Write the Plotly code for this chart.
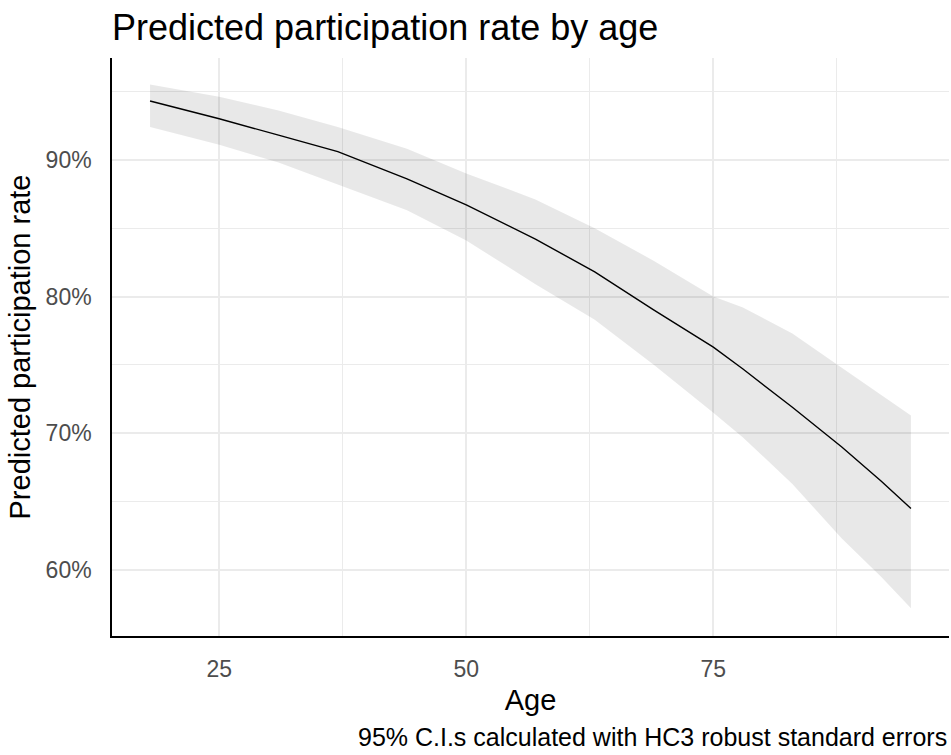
import plotly.graph_objects as go

# Predicted participation rate (%) by age with 95% confidence band
age = [18, 25, 31, 37, 44, 50, 57, 63, 69, 75, 78, 83, 88, 92, 95]
fit = [94.3, 93.0, 91.8, 90.6, 88.6, 86.7, 84.2, 81.8, 79.0, 76.3, 74.7, 71.9, 69.0, 66.5, 64.5]
upper = [95.5, 94.6, 93.6, 92.4, 90.8, 89.0, 87.1, 85.0, 82.6, 80.0, 79.2, 77.3, 74.8, 72.8, 71.3]
lower = [92.4, 91.1, 89.8, 88.2, 86.3, 84.1, 80.9, 78.3, 75.0, 71.5, 69.7, 66.3, 62.3, 59.5, 57.2]

x_ticks = [25, 50, 75]
y_ticks = [60, 70, 80, 90]
y_tick_text = ["60%", "70%", "80%", "90%"]

FONT = "Liberation Sans, Arial, sans-serif"
GRID = "#EBEBEB"

fig = go.Figure()

# confidence ribbon
fig.add_trace(go.Scatter(x=age, y=upper, mode="lines", line=dict(width=0),
                         hoverinfo="skip", showlegend=False))
fig.add_trace(go.Scatter(x=age, y=lower, mode="lines", line=dict(width=0),
                         fill="tonexty", fillcolor="rgba(0,0,0,0.09)",
                         hoverinfo="skip", showlegend=False))
# fitted curve
fig.add_trace(go.Scatter(x=age, y=fit, mode="lines",
                         line=dict(color="black", width=1.4), showlegend=False))

fig.update_layout(
    width=951, height=755,
    margin=dict(l=112, r=2, t=58, b=119),
    paper_bgcolor="white", plot_bgcolor="white",
    font=dict(family=FONT, color="black"),
    title=dict(text="Predicted participation rate by age",
               font=dict(size=36, color="black", family=FONT),
               x=112 / 951, xanchor="left", xref="container",
               y=1 - 27 / 755, yanchor="middle", yref="container"),
    annotations=[dict(text="95% C.I.s calculated with HC3 robust standard errors",
                      xref="paper", yref="paper", x=1, xanchor="right",
                      y=-(737 - 636) / (636 - 58), yanchor="middle",
                      showarrow=False, font=dict(size=25, color="black", family=FONT))],
)

fig.update_xaxes(
    range=[14.15, 98.85], tickvals=x_ticks, ticktext=[str(v) for v in x_ticks],
    tickfont=dict(size=23, color="#4D4D4D"), ticks="", ticklabelstandoff=12,
    showgrid=True, gridcolor=GRID, gridwidth=1.5,
    minor=dict(tickvals=[37.5, 62.5, 87.5], showgrid=True, gridcolor=GRID, gridwidth=1),
    showline=True, linecolor="black", linewidth=1.5, zeroline=False,
    title=dict(text="Age", font=dict(size=29, color="black"), standoff=8),
)
fig.update_yaxes(
    range=[55.18, 97.44], tickvals=y_ticks, ticktext=y_tick_text,
    tickfont=dict(size=23, color="#4D4D4D"), ticks="", ticklabelstandoff=14,
    showgrid=True, gridcolor=GRID, gridwidth=1.5,
    minor=dict(tickvals=[65, 75, 85, 95], showgrid=True, gridcolor=GRID, gridwidth=1),
    showline=True, linecolor="black", linewidth=1.5, zeroline=False,
    title=dict(text="Predicted participation rate", font=dict(size=29, color="black"), standoff=6),
)

fig.write_html("out.html")
